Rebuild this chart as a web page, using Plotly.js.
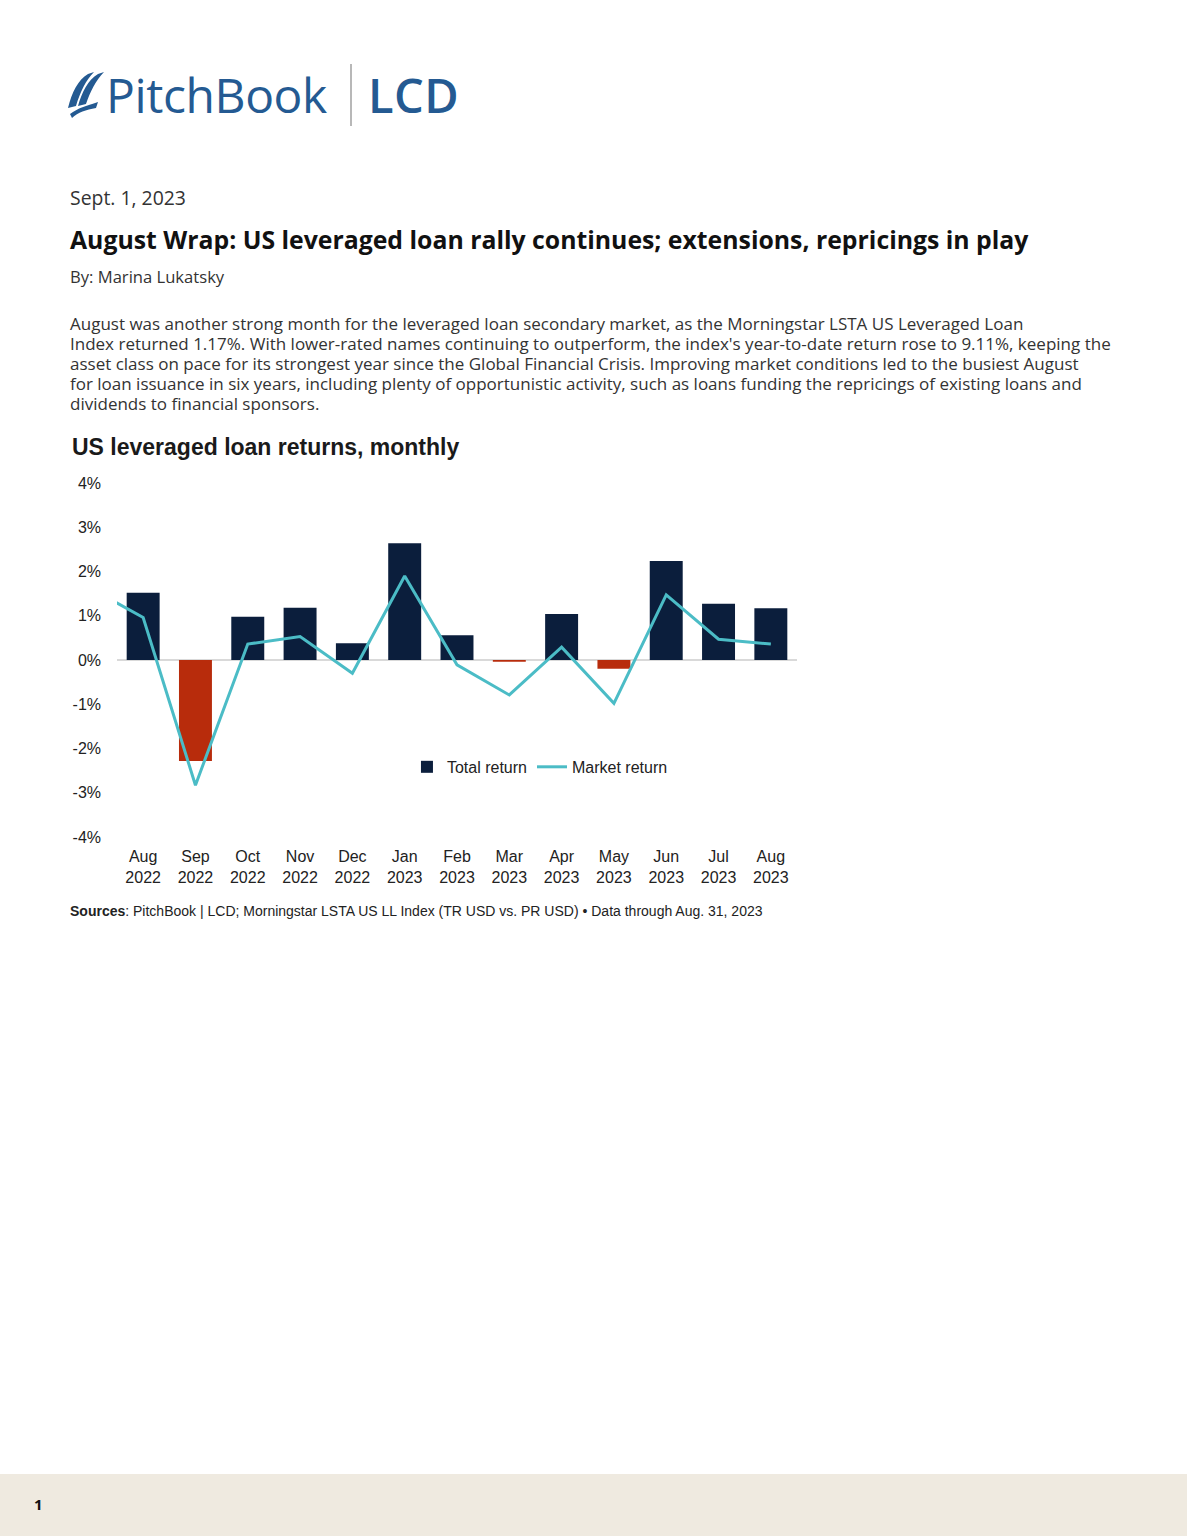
<!DOCTYPE html>
<html>
<head>
<meta charset="utf-8">
<script src="https://cdn.plot.ly/plotly-3.0.1.min.js"></script>
<style>
  html, body { margin: 0; padding: 0; background: #ffffff; }
  body { width: 1187px; height: 1536px; position: relative; overflow: hidden; font-family: "Open Sans", "Noto Sans", sans-serif; }
  .abs { position: absolute; white-space: nowrap; }
  #logo { left: 64px; top: 62px; height: 66px; }
  #brand { left: 106px; top: 62px; font-family: "Open Sans", "Noto Sans", sans-serif; font-size: 48px; font-weight: 500; color: #245a92; letter-spacing: -0.4px; line-height: 66px; }
  #sep { left: 350px; top: 64px; width: 1.5px; height: 62px; background: #b8b8b8; }
  #lcd { left: 368px; top: 62px; font-family: "Open Sans", "Noto Sans", sans-serif; font-size: 47px; color: #245a92; font-weight: 600; line-height: 66px; letter-spacing: 0.5px; }
  #date { left: 70px; top: 185px; font-size: 19.4px; color: #333; line-height: 26px; }
  #title { left: 70px; top: 222px; font-size: 24.8px; font-weight: 700; color: #111; line-height: 34px; }
  #byline { left: 70px; top: 266px; font-size: 16.6px; color: #333; line-height: 22px; }
  #para { left: 70px; top: 314px; font-size: 17px; color: #333; line-height: 20px; }
  #chart { position: absolute; left: 60px; top: 425px; width: 760px; height: 505px; }
  #footer { left: 0; top: 1474px; width: 1187px; height: 62px; background: #efeae0; }
  #pagenum { left: 34px; top: 1492px; font-size: 15px; font-weight: 700; color: #111; line-height: 24px; }
</style>
</head>
<body>
<svg id="logo" class="abs" width="44" height="66" viewBox="0 0 44 66">
  <path d="M4,46 C8,30 14,18 24,12 L30,10 C22,18 16,30 12,44 Z" fill="#245a92"/>
  <path d="M14,44 C18,30 24,18 34,12 L40,10 C32,18 26,30 22,42 Z" fill="#245a92"/>
  <path d="M6,52 C14,46 22,44 34,40 L32,46 C22,48 14,50 8,56 Z" fill="#245a92"/>
</svg>
<div id="brand" class="abs">PitchBook</div>
<div id="sep" class="abs"></div>
<div id="lcd" class="abs">LCD</div>
<div id="date" class="abs">Sept. 1, 2023</div>
<div id="title" class="abs">August Wrap: US leveraged loan rally continues; extensions, repricings in play</div>
<div id="byline" class="abs">By: Marina Lukatsky</div>
<div id="para" class="abs">August was another strong month for the leveraged loan secondary market, as the Morningstar LSTA US Leveraged Loan<br>Index returned 1.17%. With lower-rated names continuing to outperform, the index's year-to-date return rose to 9.11%, keeping the<br>asset class on pace for its strongest year since the Global Financial Crisis. Improving market conditions led to the busiest August<br>for loan issuance in six years, including plenty of opportunistic activity, such as loans funding the repricings of existing loans and<br>dividends to financial sponsors.</div>
<div id="chart"></div>
<div id="footer" class="abs"></div>
<div id="pagenum" class="abs">1</div>
<script>
// ---- Data ----
const months = ['Aug<br>2022','Sep<br>2022','Oct<br>2022','Nov<br>2022','Dec<br>2022','Jan<br>2023','Feb<br>2023','Mar<br>2023','Apr<br>2023','May<br>2023','Jun<br>2023','Jul<br>2023','Aug<br>2023'];
const priorMonth = 'Jul<br>2022';           // off-chart month, line enters from the left edge
const totalReturn = [1.52, -2.28, 0.98, 1.18, 0.38, 2.64, 0.56, -0.04, 1.04, -0.20, 2.24, 1.27, 1.17];
const priorMarketReturn = 1.62;
const marketReturn = [0.96, -2.83, 0.36, 0.53, -0.30, 1.90, -0.11, -0.79, 0.29, -0.98, 1.47, 0.47, 0.36];
const yTicks = [-4, -3, -2, -1, 0, 1, 2, 3, 4];
const yTickLabels = ['-4%','-3%','-2%','-1%','0%','1%','2%','3%','4%'];

const NAVY = '#0b1e3c';
const RED = '#b82c0c';
const TEAL = '#4bbcc6';
const FONT = 'Liberation Sans, Arial, sans-serif';

const allCats = [priorMonth].concat(months);

const traces = [
  {
    type: 'bar',
    name: 'Total return',
    x: months,
    y: totalReturn,
    marker: { color: totalReturn.map(v => v >= 0 ? NAVY : RED) },
    hoverinfo: 'skip'
  },
  {
    type: 'scatter',
    mode: 'lines',
    name: 'Market return',
    x: allCats,
    y: [priorMarketReturn].concat(marketReturn),
    line: { color: TEAL, width: 3 },
    hoverinfo: 'skip'
  }
];

const layout = {
  width: 760,
  height: 505,
  margin: { l: 57, r: 23, t: 58, b: 93 },
  paper_bgcolor: '#ffffff',
  plot_bgcolor: '#ffffff',
  font: { family: FONT, color: '#222', size: 16 },
  title: {
    text: 'US leveraged loan returns, monthly',
    font: { family: FONT, size: 23, color: '#1a1a1a', weight: 700 },
    x: 12 / 760, xanchor: 'left', xref: 'container',
    y: 1 - 22 / 505, yanchor: 'middle', yref: 'container'
  },
  bargap: 0.37,
  showlegend: true,
  legend: {
    orientation: 'h',
    x: 0.622, xanchor: 'center',
    y: 0.198, yanchor: 'middle',
    bgcolor: 'rgba(0,0,0,0)',
    font: { family: FONT, size: 16, color: '#222' },
    itemwidth: 30,
    tracegroupgap: 0
  },
  xaxis: {
    type: 'category',
    categoryorder: 'array',
    categoryarray: allCats,
    range: [0.5, 13.5],
    showgrid: false,
    showline: false,
    zeroline: false,
    ticks: '',
    ticklabelstandoff: 8,
    tickfont: { family: FONT, size: 16, color: '#222' },
    fixedrange: true
  },
  yaxis: {
    range: [-4, 4],
    tickvals: yTicks,
    ticktext: yTickLabels,
    showgrid: false,
    zeroline: true,
    zerolinecolor: '#d9d9d9',
    zerolinewidth: 2,
    showline: false,
    ticks: '',
    ticklabelstandoff: 15,
    tickfont: { family: FONT, size: 16, color: '#222' },
    fixedrange: true
  },
  annotations: [
    {
      xref: 'paper', yref: 'paper',
      x: (68 - 117) / 680, y: (837 - 911) / 354,
      xanchor: 'left', yanchor: 'middle',
      showarrow: false,
      text: '<b>Sources</b>: PitchBook | LCD; Morningstar LSTA US LL Index (TR USD vs. PR USD) • Data through Aug. 31, 2023',
      font: { family: FONT, size: 14, color: '#222' }
    }
  ]
};

Plotly.newPlot('chart', traces, layout, { displayModeBar: false, staticPlot: true });
</script>
</body>
</html>
